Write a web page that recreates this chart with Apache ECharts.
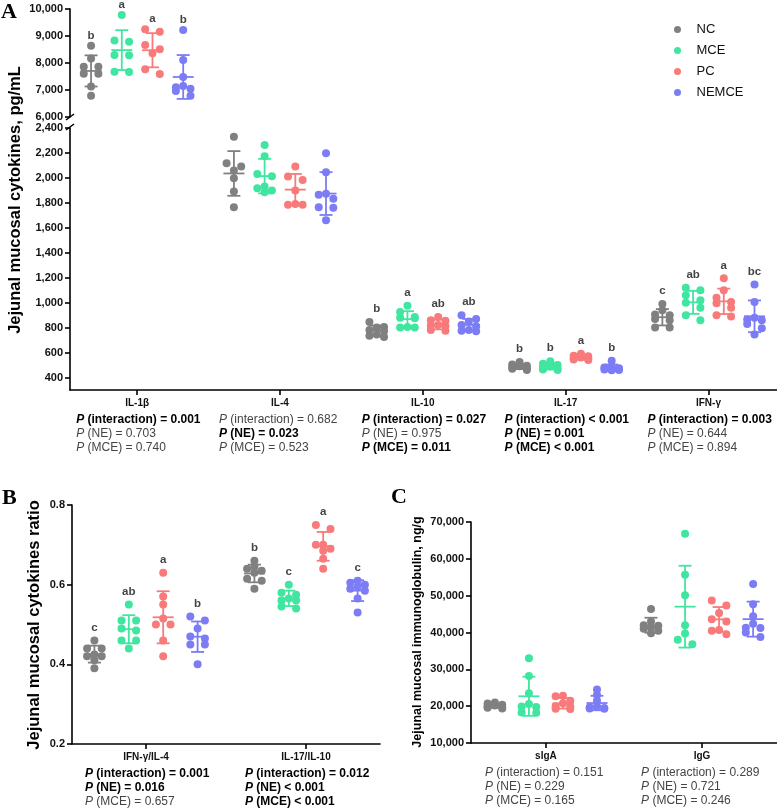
<!DOCTYPE html>
<html><head><meta charset="utf-8">
<script src="https://cdn.jsdelivr.net/npm/echarts@6/dist/echarts.min.js"></script>
<style>html,body{margin:0;padding:0;background:#fff}#c{width:777px;height:812px}</style>
</head><body><div id="c"></div>
<script>
const groups = ["NC", "MCE", "PC", "NEMCE"];
const colors = ["#808080", "#40e6a0", "#f87a7a", "#7c7cf5"];

const catsA = ["IL-1β", "IL-4", "IL-10", "IL-17", "IFN-γ"];
const catsB = ["IFN-γ/IL-4", "IL-17/IL-10"];
const catsC = ["sIgA", "IgG"];

// Panel A values (pg/mL), groups NC, MCE, PC, NEMCE
const il1b = [
  [8640, 8170, 7860, 7860, 7600, 7600, 7130, 6790],
  [9780, 8830, 8790, 8300, 8290, 7680, 7670],
  [9250, 9160, 8670, 8510, 8360, 7770, 7590],
  [9220, 8110, 7480, 7150, 7100, 7050, 6960, 6790]
];
const il4 = [
  [2330, 2117, 2091, 2059, 1997, 1891, 1765],
  [2264, 2173, 2032, 2013, 1931, 1918, 1885, 1900],
  [2091, 2011, 1984, 1899, 1790, 1784, 1784],
  [2197, 2045, 1872, 1865, 1832, 1765, 1760, 1660]
];
const il10 = [
  [845, 805, 800, 780, 770, 745, 735, 725],
  [975, 925, 885, 880, 875, 805, 800, 800],
  [885, 860, 855, 820, 815, 810, 780, 775],
  [900, 870, 850, 820, 810, 780, 775, 770]
];
const il17 = [
  [525, 505, 495, 490, 485, 475, 470, 460],
  [530, 510, 500, 490, 480, 470, 465, 460],
  [590, 575, 570, 560, 555, 550, 545, 540],
  [535, 490, 480, 475, 470, 465, 460, 458]
];
const ifng = [
  [990, 940, 905, 900, 870, 860, 800, 800],
  [1120, 1100, 1060, 1020, 1000, 960, 900, 860],
  [1195, 1100, 1040, 1005, 995, 960, 900, 890],
  [1145, 1005, 880, 865, 860, 830, 795, 745]
];
// Panel B ratios
const ifngIl4 = [
  [0.46, 0.44, 0.44, 0.425, 0.42, 0.42, 0.41, 0.39],
  [0.55, 0.51, 0.51, 0.49, 0.485, 0.46, 0.46, 0.44],
  [0.63, 0.57, 0.55, 0.515, 0.50, 0.50, 0.46, 0.42],
  [0.52, 0.51, 0.49, 0.47, 0.465, 0.45, 0.45, 0.40]
];
const il17Il10 = [
  [0.66, 0.645, 0.64, 0.635, 0.63, 0.615, 0.61, 0.59],
  [0.60, 0.58, 0.575, 0.565, 0.56, 0.56, 0.545, 0.54],
  [0.75, 0.74, 0.70, 0.70, 0.69, 0.685, 0.665, 0.64],
  [0.61, 0.605, 0.60, 0.595, 0.59, 0.585, 0.565, 0.53]
];
// Panel C immunoglobulin (ng/g)
const siga = [
  [21000, 20700, 20400, 20200, 20000, 19800, 19600, 19400],
  [33000, 28200, 23500, 20600, 19900, 19800, 18300, 18200],
  [22800, 22700, 21500, 20800, 20000, 19900, 19300, 19200],
  [24500, 23000, 21500, 19900, 19700, 19500, 19400, 19300]
];
const igg = [
  [46400, 43000, 42000, 41800, 41300, 41000, 40500, 39800],
  [66800, 55700, 50100, 42000, 39700, 38000, 36800],
  [48700, 47300, 45300, 43600, 43000, 40700, 40500, 39500],
  [53200, 47700, 44400, 42400, 41300, 41200, 40000, 38800]
];

const lettersA = [["b","a","a","b"], ["","","",""], ["b","a","ab","ab"], ["b","b","a","b"], ["c","ab","a","bc"]];
const lettersB = [["c","ab","a","b"], ["b","c","a","c"]];

const pA = [
  [["(interaction) = 0.001",1],["(NE) = 0.703",0],["(MCE) = 0.740",0]],
  [["(interaction) = 0.682",0],["(NE) = 0.023",1],["(MCE) = 0.523",0]],
  [["(interaction) = 0.027",1],["(NE) = 0.975",0],["(MCE) = 0.011",1]],
  [["(interaction) < 0.001",1],["(NE) = 0.001",1],["(MCE) < 0.001",1]],
  [["(interaction) = 0.003",1],["(NE) = 0.644",0],["(MCE) = 0.894",0]]
];
const pB = [
  [["(interaction) = 0.001",1],["(NE) = 0.016",1],["(MCE) = 0.657",0]],
  [["(interaction) = 0.012",1],["(NE) < 0.001",1],["(MCE) < 0.001",1]]
];
const pC = [
  [["(interaction) = 0.151",0],["(NE) = 0.229",0],["(MCE) = 0.165",0]],
  [["(interaction) = 0.289",0],["(NE) = 0.721",0],["(MCE) = 0.246",0]]
];

const ticksA2 = [400,600,800,1000,1200,1400,1600,1800,2000,2200,2400];

const FONT = "Liberation Sans, Arial, sans-serif";
const plots = [
  {k:0, goff:0.215, ldist:0, items:[{c:0, vals:il1b, let:lettersA[0]}]},
  {k:1, goff:0.215, ldist:3, items:[{c:1, vals:il4, let:lettersA[1]}, {c:2, vals:il10, let:lettersA[2]}, {c:3, vals:il17, let:lettersA[3]}, {c:4, vals:ifng, let:lettersA[4]}]},
  {k:2, goff:0.215, ldist:3, items:[{c:0, vals:ifngIl4, let:lettersB[0]}, {c:1, vals:il17Il10, let:lettersB[1]}]},
  {k:3, goff:0.218, ldist:3, items:[{c:0, vals:siga}, {c:1, vals:igg}]}
];

function mean(a){ return a.reduce((s,v)=>s+v,0)/a.length; }
function sd(a){ const m=mean(a); return Math.sqrt(a.reduce((s,v)=>s+(v-m)*(v-m),0)/(a.length-1)); }
function comma(v){ return String(Math.round(v)).replace(/\B(?=(\d{3})+(?!\d))/g, ","); }

const axisLineStyle = {color:"#000", width:1.6};
function yAx(k, o){
  return Object.assign({
    gridIndex:k, type:"value",
    axisLine:{show:true, onZero:false, lineStyle:axisLineStyle},
    axisTick:{show:true, length:5, lineStyle:axisLineStyle},
    axisLabel:{fontFamily:FONT, fontWeight:"bold", fontSize:11, color:"#111", margin:7, formatter:comma},
    splitLine:{show:false}
  }, o);
}
function xAx(k, min, max, cats, show){
  const cv = cats.map((_, i) => i);
  return {
    gridIndex:k, type:"value", min:min, max:max, show:show,
    axisLine:{show:true, onZero:false, lineStyle:axisLineStyle},
    axisTick:{show:true, length:5, customValues:cv, lineStyle:axisLineStyle},
    axisLabel:{show:true, customValues:cv, formatter:v => cats[Math.round(v)], fontFamily:FONT, fontWeight:"bold", fontSize:10, color:"#111", margin:8},
    splitLine:{show:false}
  };
}

const grids = [
  {left:70, top:9, width:707, height:108},
  {left:70, top:128, width:707, height:262},
  {left:72, top:505, width:308, height:239},
  {left:471, top:522, width:306, height:221}
];

const xAxes = [
  xAx(0, -0.47, 4.48, catsA, false),
  xAx(1, -0.47, 4.48, catsA, true),
  xAx(2, -0.4625, 1.4625, catsB, true),
  xAx(3, -0.48, 1.48, catsC, true)
];
const yAxes = [
  yAx(0, {min:6000, max:10000, interval:1000}),
  yAx(1, {min:300, max:2400, axisTick:{show:true, length:5, customValues:ticksA2, lineStyle:axisLineStyle},
          axisLabel:{customValues:ticksA2, fontFamily:FONT, fontWeight:"bold", fontSize:11, color:"#111", margin:7, formatter:comma}}),
  yAx(2, {min:0.2, max:0.8, interval:0.2, axisLabel:{fontFamily:FONT, fontWeight:"bold", fontSize:11, color:"#111", margin:7, formatter:v => v.toFixed(1)}}),
  yAx(3, {min:10000, max:70000, interval:10000})
];

function renderErr(params, api){
  const x = api.value(0), m = api.value(1), s = api.value(2), g = api.value(3);
  const pm = api.coord([x, m]), pt = api.coord([x, m + s]), pb = api.coord([x, m - s]);
  const st = {stroke:colors[g], lineWidth:1.8};
  return {type:"group", children:[
    {type:"line", shape:{x1:pm[0]-10.5, y1:pm[1], x2:pm[0]+10.5, y2:pm[1]}, style:st},
    {type:"line", shape:{x1:pm[0], y1:pt[1], x2:pm[0], y2:pb[1]}, style:st},
    {type:"line", shape:{x1:pm[0]-6.5, y1:pt[1], x2:pm[0]+6.5, y2:pt[1]}, style:st},
    {type:"line", shape:{x1:pm[0]-6.5, y1:pb[1], x2:pm[0]+6.5, y2:pb[1]}, style:st}
  ]};
}

const series = [];
plots.forEach(p => {
  for (let g = 0; g < 4; g++) {
    const data = [];
    p.items.forEach(it => it.vals[g].forEach(v => data.push([it.c + (g - 1.5) * p.goff, v])));
    series.push({id:"s"+p.k+"_"+g, name:groups[g], type:"scatter", xAxisIndex:p.k, yAxisIndex:p.k,
      symbolSize:8, itemStyle:{color:colors[g], opacity:1}, data:data, z:2, silent:true});
  }
  const ed = [];
  const ld = [];
  p.items.forEach(it => {
    for (let g = 0; g < 4; g++) {
      const cx = it.c + (g - 1.5) * p.goff;
      ed.push([cx, mean(it.vals[g]), sd(it.vals[g]), g]);
      if (it.let && it.let[g]) ld.push({value:[cx, Math.max.apply(null, it.vals[g])], name:it.let[g]});
    }
  });
  series.push({id:"e"+p.k, type:"custom", xAxisIndex:p.k, yAxisIndex:p.k, renderItem:renderErr, data:ed, z:3, clip:false, silent:true});
  if (ld.length) series.push({id:"l"+p.k, type:"scatter", xAxisIndex:p.k, yAxisIndex:p.k, symbolSize:8,
    itemStyle:{color:"rgba(0,0,0,0)"}, data:ld, z:4, silent:true,
    label:{show:true, position:"top", distance:p.ldist, formatter:"{b}", fontFamily:FONT, fontWeight:"bold", fontSize:11.5, color:"#111"}});
});

const chart = echarts.init(document.getElementById("c"));
const option = {
  animation:false,
  backgroundColor:"#fff",
  grid:grids, xAxis:xAxes, yAxis:yAxes, series:series,
  legend:{data:groups, orient:"vertical", left:669, top:18, itemWidth:28, itemHeight:7, itemGap:8, icon:"circle",
    textStyle:{fontFamily:FONT, fontSize:13, color:"#111", lineHeight:13}}
};
chart.setOption(option);

// beeswarm layout computed from the library's own scales
const THR = 5.5, STEP = 7.3, MAXROW = 3;
function rowOffsets(n){
  if (n === 1) return [0];
  if (n === 2) return [-1, 1];
  const r = [];
  for (let t = 0; t < n; t++) r.push(t - (n - 1) / 2);
  r.sort((a, b) => Math.abs(a) - Math.abs(b) || a - b);
  return r;
}
const upd = [];
plots.forEach(p => {
  const ppu = chart.convertToPixel({gridIndex:p.k}, [1, yAxes[p.k].min])[0] - chart.convertToPixel({gridIndex:p.k}, [0, yAxes[p.k].min])[0];
  for (let g = 0; g < 4; g++) {
    const data = [];
    p.items.forEach(it => {
      const cx = it.c + (g - 1.5) * p.goff;
      const pts = it.vals[g].map(v => ({v:v, py:chart.convertToPixel({gridIndex:p.k}, [cx, v])[1]}));
      pts.sort((a, b) => a.py - b.py);
      let i = 0;
      while (i < pts.length) {
        let j = i + 1;
        while (j < pts.length && j - i < MAXROW && pts[j].py - pts[i].py < THR) j++;
        const offs = rowOffsets(j - i);
        for (let t = 0; t < j - i; t++) data.push([cx + offs[t] * STEP / ppu, pts[i + t].v]);
        i = j;
      }
    });
    upd.push({id:"s"+p.k+"_"+g, data:data});
  }
});

// text annotations
const graphics = [];
function pLines(k, cats, plist){
  const ymin = yAxes[k].min;
  const bottom = chart.convertToPixel({gridIndex:k}, [0, ymin])[1];
  cats.forEach((c, ci) => {
    const cxp = chart.convertToPixel({gridIndex:k}, [ci, ymin])[0];
    const lines = plist[ci];
    for (let l = 0; l < 3; l++) {
      const b = lines[l][1];
      graphics.push({type:"text", x:cxp - 61, y:bottom + 30 + 14 * l, silent:true,
        style:{text:(b ? "{pb|P}{tb| " : "{pn|P}{tn| ") + lines[l][0] + "}", textVerticalAlign:"middle", textAlign:"left",
          rich:{
            pb:{fontFamily:FONT, fontSize:12, fontWeight:"bold", fontStyle:"italic", fill:"#000"},
            tb:{fontFamily:FONT, fontSize:12, fontWeight:"bold", fill:"#000"},
            pn:{fontFamily:FONT, fontSize:12, fontStyle:"italic", fill:"#444"},
            tn:{fontFamily:FONT, fontSize:12, fill:"#444"}
          }}});
    }
  });
}
pLines(1, catsA, pA);
pLines(2, catsB, pB);
pLines(3, catsC, pC);

const serif = "bold 22px 'Liberation Serif', 'Times New Roman', serif";
graphics.push({type:"text", x:1, y:1, style:{text:"A", font:serif, fill:"#000"}});
graphics.push({type:"text", x:2, y:487, style:{text:"B", font:serif, fill:"#000"}});
graphics.push({type:"text", x:391, y:486, style:{text:"C", font:serif, fill:"#000"}});
graphics.push({type:"text", x:15, y:200, rotation:Math.PI/2, style:{text:"Jejunal mucosal cytokines, pg/mL", font:"bold 16.5px " + FONT, fill:"#000", textAlign:"center", textVerticalAlign:"middle"}});
graphics.push({type:"text", x:34, y:625, rotation:Math.PI/2, style:{text:"Jejunal mucosal cytokines ratio", font:"bold 16.5px " + FONT, fill:"#000", textAlign:"center", textVerticalAlign:"middle"}});
graphics.push({type:"text", x:418, y:632, rotation:Math.PI/2, style:{text:"Jejunal mucosal immunoglobulin, ng/g", font:"bold 12.5px " + FONT, fill:"#000", textAlign:"center", textVerticalAlign:"middle"}});
// axis break marks
graphics.push({type:"line", shape:{x1:66, y1:120, x2:74, y2:114}, style:{stroke:"#000", lineWidth:1.5}});
graphics.push({type:"line", shape:{x1:66, y1:130, x2:74, y2:124}, style:{stroke:"#000", lineWidth:1.5}});

chart.setOption({series:upd, graphic:graphics});
</script>
</body></html>
